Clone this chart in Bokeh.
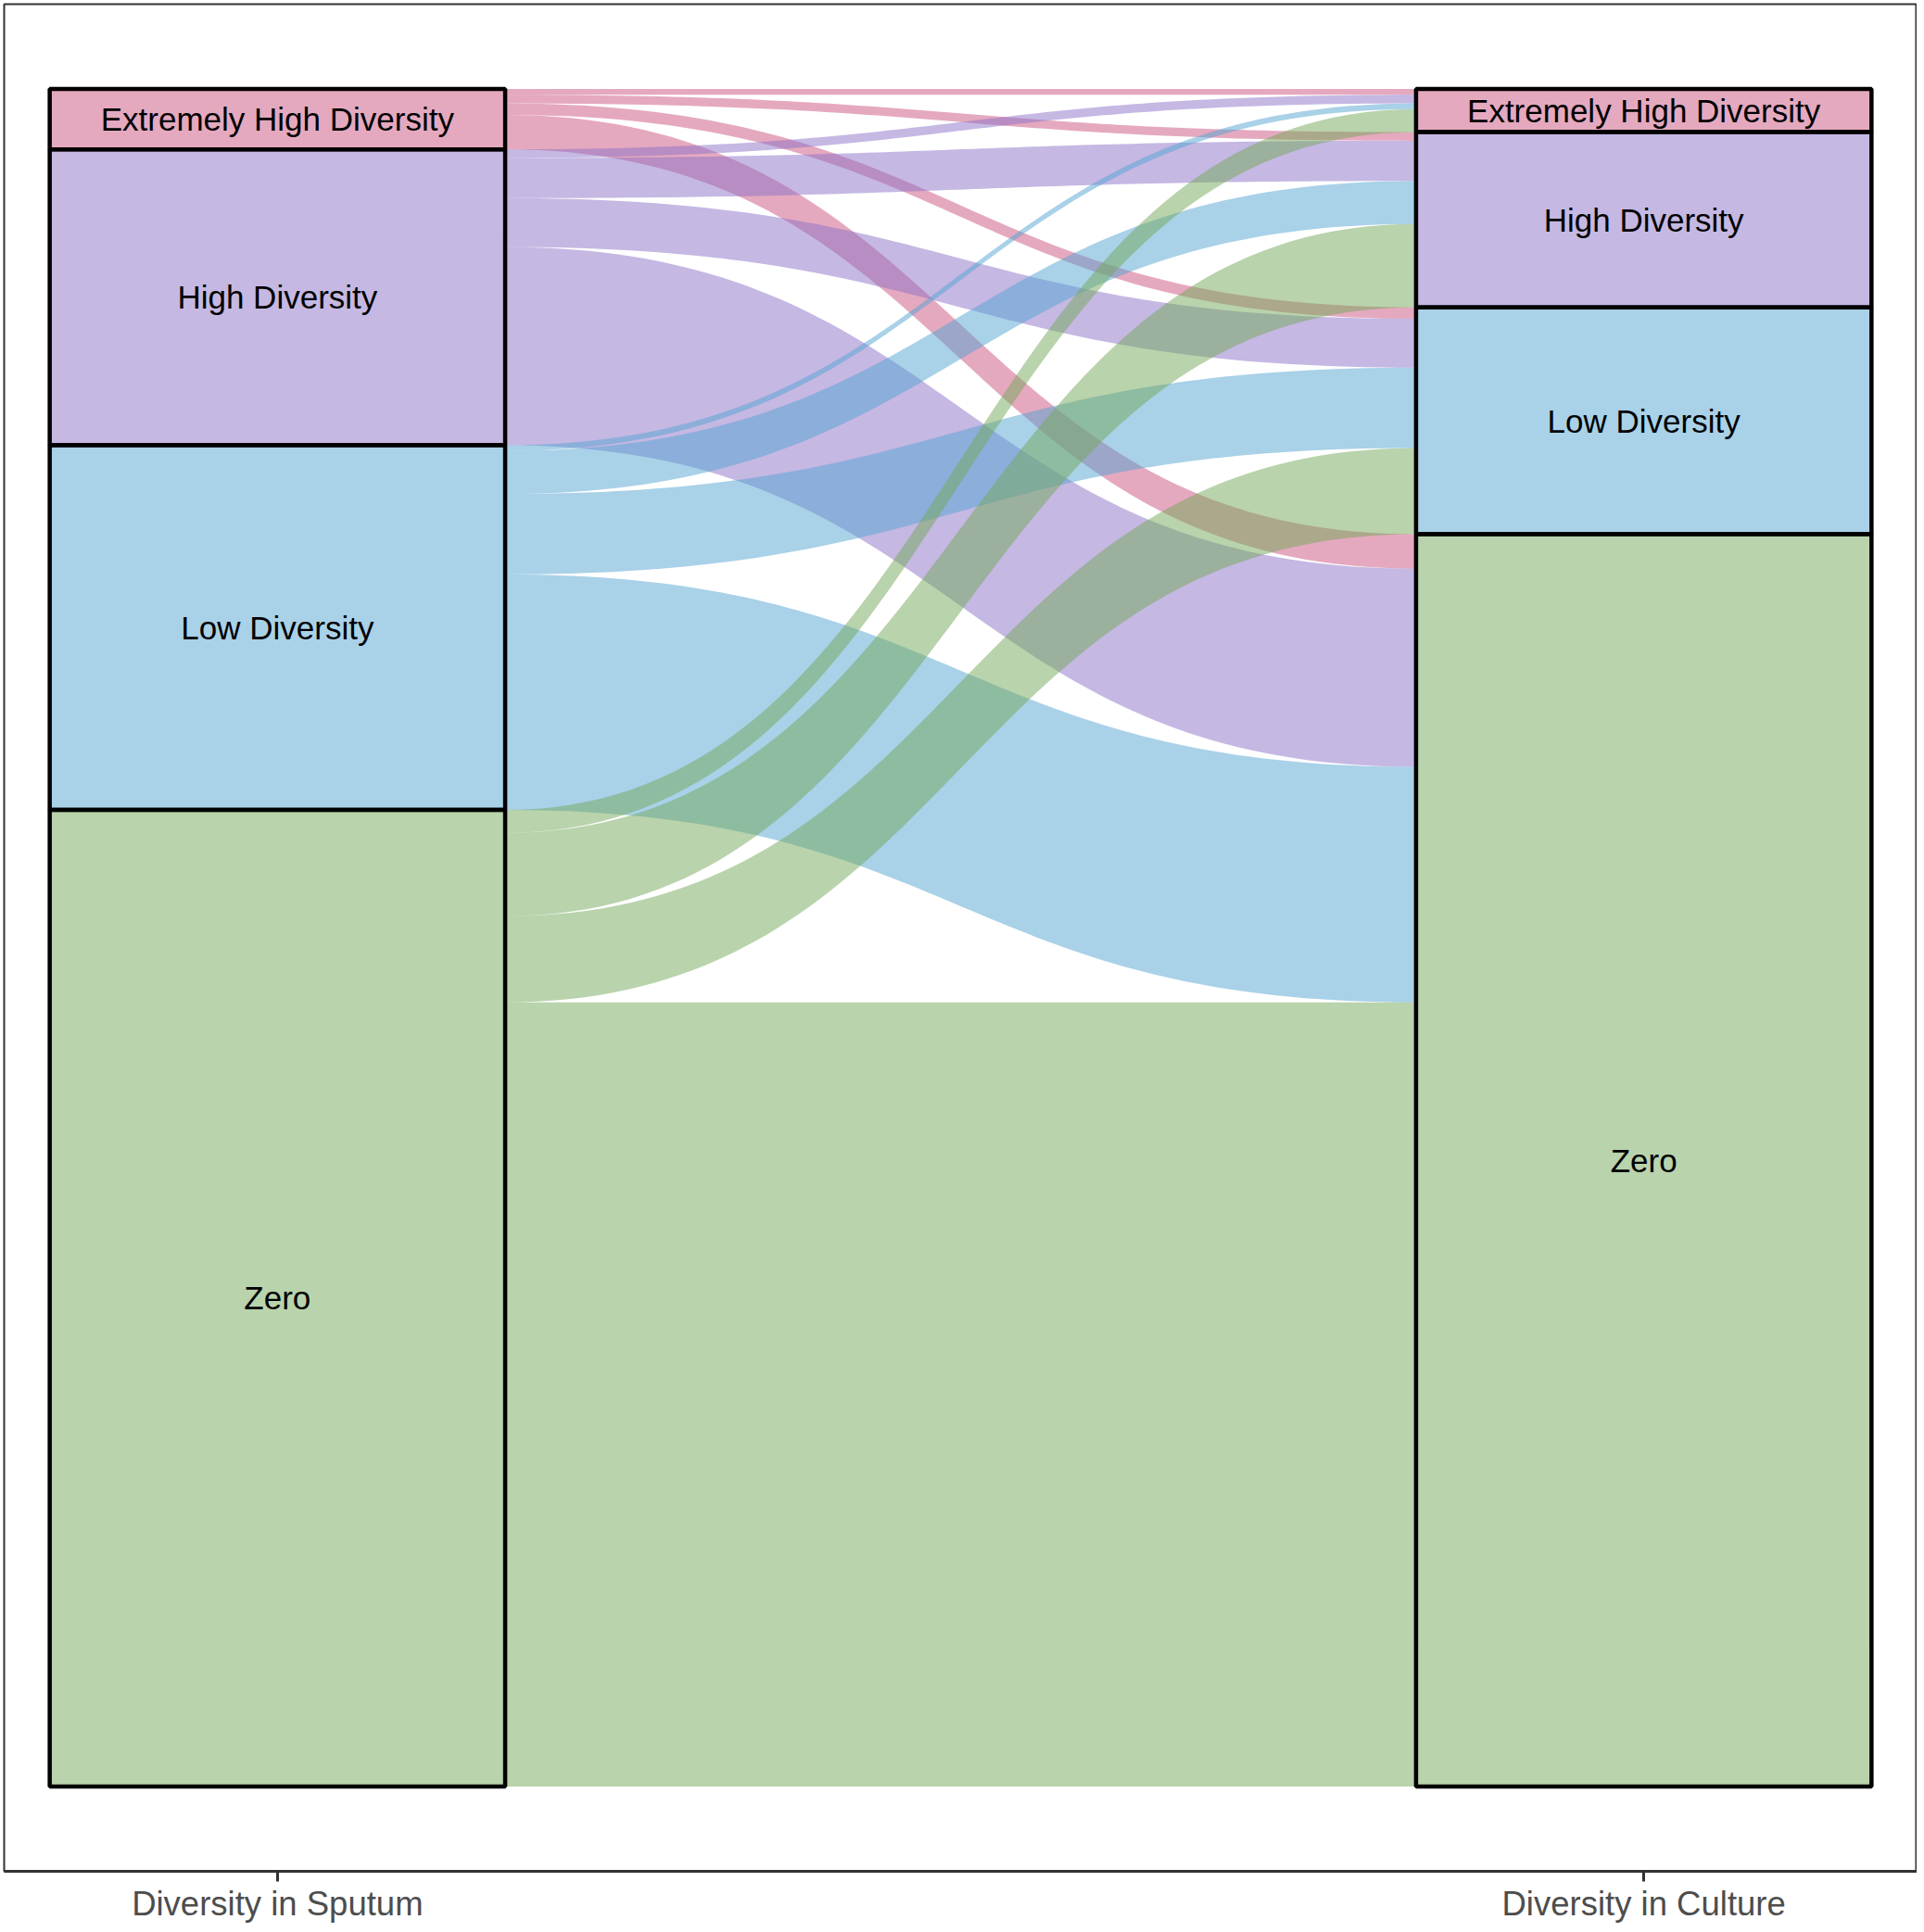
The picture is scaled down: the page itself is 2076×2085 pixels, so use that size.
import numpy as np
from bokeh.plotting import figure
from bokeh.models import FixedTicker, Range1d
from bokeh.embed import file_html
from bokeh.resources import INLINE
from bokeh.core.properties import value

# ---- data ----
categories = ["Extremely High Diversity", "High Diversity", "Low Diversity", "Zero"]
axis_names = ["Diversity in Sputum", "Diversity in Culture"]
# number of samples moving from a sputum category (row) to each culture category
from_extremely_high = [2, 3, 4, 12]
from_high = [3, 14, 17, 69]
from_low = [2, 15, 28, 82]
from_zero = [8, 29, 30, 273]
colors = ["#CB537F", "#8B71C7", "#53A3D1", "#73A759"]

M = np.array([from_extremely_high, from_high, from_low, from_zero], dtype=float)
left_tot = M.sum(axis=1)
right_tot = M.sum(axis=0)
N = M.sum()

def tops(tot):
    t = []
    cur = N
    for v in tot:
        t.append(cur)
        cur -= v
    return t

left_top = tops(left_tot)
right_top = tops(right_tot)

W = 1.0 / 3.0
xl_edge = 1 + W / 2
xr_edge = 2 - W / 2
xm = (xl_edge + xr_edge) / 2

p = figure(width=2068, height=2077, output_backend="svg", toolbar_location=None,
           x_range=Range1d(0.8, 2.2), y_range=Range1d(-0.05 * N, 1.05 * N),
           min_border_left=4, min_border_right=0, min_border_top=4, min_border_bottom=0)

# flows
s = np.linspace(0, 1, 80)
bx = (1 - s) ** 3 * xl_edge + 3 * (1 - s) ** 2 * s * xm + 3 * (1 - s) * s ** 2 * xm + s ** 3 * xr_edge
by = 3 * (1 - s) * s ** 2 + s ** 3  # 0 -> 1

lpos = {}
for i in range(4):
    cur = left_top[i]
    for j in range(4):
        lpos[(i, j)] = (cur, cur - M[i, j])
        cur -= M[i, j]
rpos = {}
for j in range(4):
    cur = right_top[j]
    for i in range(4):
        rpos[(i, j)] = (cur, cur - M[i, j])
        cur -= M[i, j]

xs, ys, fc = [], [], []
for i in range(4):
    for j in range(4):
        if M[i, j] <= 0:
            continue
        (lt, lb) = lpos[(i, j)]
        (rt, rb) = rpos[(i, j)]
        top = lt + (rt - lt) * by
        bot = lb + (rb - lb) * by
        xs.append(list(bx) + list(bx[::-1]))
        ys.append(list(top) + list(bot[::-1]))
        fc.append(colors[i])

p.patches(xs, ys, fill_color=fc, fill_alpha=0.5, line_color=None)

# strata
for xc, tot, tp in [(1, left_tot, left_top), (2, right_tot, right_top)]:
    p.quad(left=[xc - W / 2] * 4, right=[xc + W / 2] * 4,
           top=tp, bottom=[t - v for t, v in zip(tp, tot)],
           fill_color=colors, fill_alpha=0.5, line_color="black", line_width=4.5)
    p.text(x=[xc] * 4, y=[t - v / 2 for t, v in zip(tp, tot)], text=categories,
           text_align="center", text_baseline="middle",
           text_font=value("Liberation Sans"), text_font_size="35px", text_color="black")

p.xgrid.visible = False
p.ygrid.visible = False
p.yaxis.visible = False
p.xaxis.ticker = FixedTicker(ticks=[1, 2])
p.xaxis.major_label_overrides = {1: axis_names[0], 2: axis_names[1]}
p.xaxis.minor_tick_line_color = None
p.xaxis.major_tick_in = 0
p.xaxis.major_tick_out = 11
p.xaxis.major_tick_line_color = "#333333"
p.xaxis.major_tick_line_width = 3
p.xaxis.axis_line_color = "#333333"
p.xaxis.axis_line_width = 3
p.xaxis.major_label_standoff = 3
p.xaxis.major_label_text_font = "Liberation Sans"
p.xaxis.major_label_text_font_size = "36.5px"
p.xaxis.major_label_text_color = "#4D4D4D"
p.outline_line_color = "#333333"
p.outline_line_width = 2
p.background_fill_color = "white"
p.border_fill_color = "white"

open("out.html", "w").write(file_html(p, INLINE))
